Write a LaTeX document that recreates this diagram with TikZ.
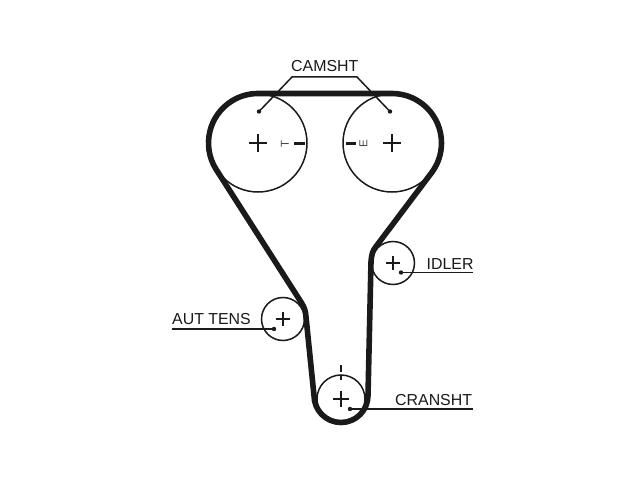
\documentclass[tikz,border=0pt]{standalone}
\usepackage{fontspec}
\setmainfont{Liberation Sans}
\usetikzlibrary{calc}
\definecolor{ink}{HTML}{1A1A1A}
\tikzset{
  pulley/.style={circle,draw=ink,line width=1.5pt,inner sep=0pt,outer sep=0pt,minimum size=#1},
  belt/.style={draw=ink,line width=5.6pt,line join=round},
  crossmark/.style={draw=ink,line width=1.6pt},
  leader/.style={draw=ink,line width=1.5pt},
  tag/.style={text=ink,font=\fontsize{15.9pt}{16pt}\selectfont,inner sep=0pt,anchor=base west},
  dotmark/.style={fill=ink,circle,inner sep=0pt,minimum size=4.4pt},
  tinymark/.style={text=ink!80!white,font=\fontsize{11.5pt}{11.5pt}\selectfont,inner sep=0pt,rotate=90}
}
\begin{document}
\begin{tikzpicture}[x=1pt,y=1pt]
\useasboundingbox (0,0) rectangle (640,480);
\fill[white] (0,0) rectangle (640,480);
% pulleys
\node[pulley=98pt] (camL) at (258,337) {};
\node[pulley=98pt] (camR) at (392,337) {};
\node[pulley=43pt] (idler) at (393,217) {};
\node[pulley=43pt] (tens) at (283,161) {};
\node[pulley=48pt] (crank) at (341,81) {};
% belt
\path[belt] ($(camL.center)+(90:49.5)$) -- ($(camR.center)+(90:49.5)$)
  arc[start angle=90,end angle=-36.9,radius=49.5pt]
  -- (376,233.5) .. controls (372.6,229) and (371.6,226) .. (371,218)
  -- (368,84.5) arc[start angle=0,end angle=-180,radius=27pt]
  -- (306,163) .. controls (305.4,170) and (304.6,172) .. (301,178)
  -- ($(camL.center)+(211.5:49.5)$)
  arc[start angle=211.5,end angle=90,radius=49.5pt] -- cycle;
% centre crosses
\foreach \c/\h in {camL/9,camR/9,idler/7,tens/7,crank/8}{
  \draw[crossmark] ($(\c.center)+(-\h,0)$) -- ($(\c.center)+(\h,0)$);
  \draw[crossmark] ($(\c.center)+(0,-\h)$) -- ($(\c.center)+(0,\h)$);
}
% timing marks
\draw[draw=ink,line width=3.8pt] (294,336.4) -- (304.5,336.4);
\draw[draw=ink,line width=3.8pt] (345.5,336.4) -- (356,336.4);
\node[tinymark] (markT) at (285,336.4) {T};
\node[tinymark] (markE) at (363.5,336.4) {E};
\draw[draw=ink,line width=1.8pt] (341,115) -- (341,108);
\draw[draw=ink,line width=1.8pt] (341,105) -- (341,100);
% labels
\node[tag] (lcam) at (291,408) {CAMSHT};
\node[tag] (lidler) at (426.5,211) {IDLER};
\node[tag] (ltens) at (172,156) {AUT TENS};
\node[tag] (lcrank) at (395,75) {CRANSHT};
% leaders
\node[dotmark] (dcl) at (259,368.5) {};
\node[dotmark] (dcr) at (390,368.5) {};
\node[dotmark] (did) at (401,207.5) {};
\node[dotmark] (dte) at (274,151) {};
\node[dotmark] (dcr2) at (350,71) {};
\coordinate (k1) at (292,403);
\coordinate (k2) at (357,403);
\coordinate (e1) at (473,207.5);
\coordinate (e2) at (172,151);
\coordinate (e3) at (473,71);
\path[leader] (dcl.center) -- (k1) -- (k2) -- (dcr.center);
\path[leader] (did.center) -- (e1);
\path[leader] (dte.center) -- (e2);
\path[leader] (dcr2.center) -- (e3);
\end{tikzpicture}
\end{document}
